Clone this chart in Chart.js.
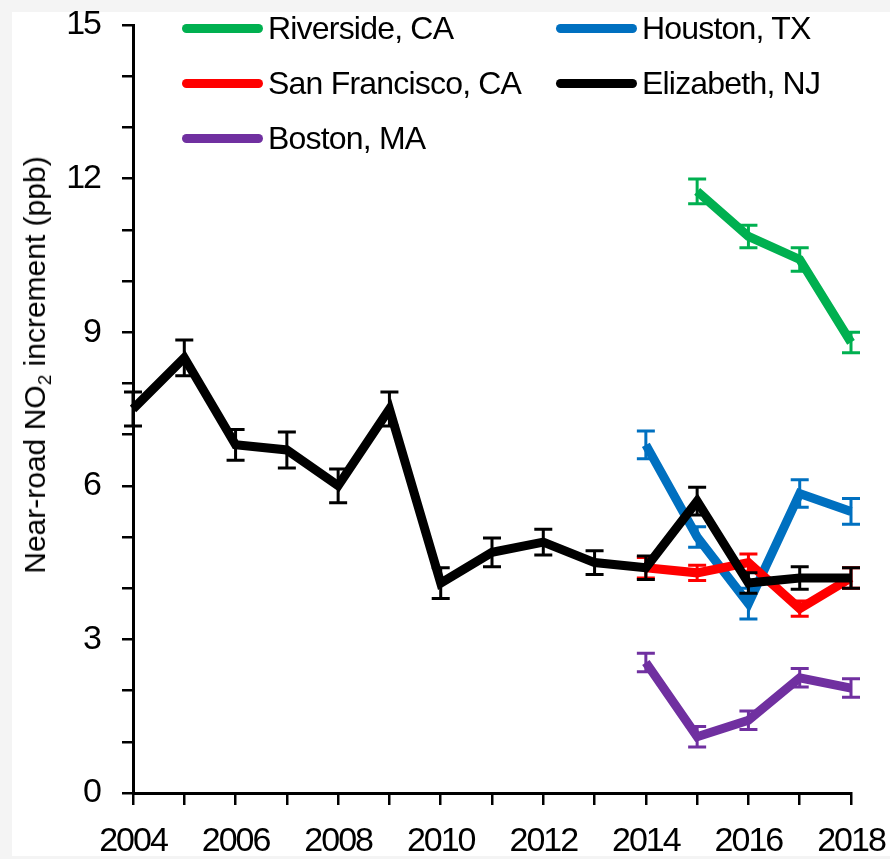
<!DOCTYPE html>
<html lang="en">
<head>
    <meta charset="UTF-8">
    <title>Near-road NO2 increment</title>
    <script src="https://cdn.jsdelivr.net/npm/chart.js"></script>
    <style>
        body {
            margin: 0;
            background: #f4f4f4;
            width: 890px;
            height: 859px;
            position: relative;
            overflow: hidden;
        }
        .panel {
            position: absolute;
            left: 12px;
            top: 12px;
            width: 878px;
            height: 844px;
            background: #fff;
        }
        .wrap {
            position: absolute;
            left: 0;
            top: 0;
            width: 890px;
            height: 859px;
        }
        .ytitle {
            position: absolute;
            left: 37px;
            top: 365px;
            transform: translate(-50%, -50%) rotate(-90deg);
            white-space: nowrap;
            font-family: "Liberation Sans", Arial, sans-serif;
            font-size: 30px;
            color: #000;
        }
        .ytitle sub { font-size: 19px; vertical-align: -6px; }
        .leg {
            position: absolute;
            height: 40px;
            display: flex;
            align-items: center;
            font-family: "Liberation Sans", Arial, sans-serif;
            font-size: 32px;
            letter-spacing: -0.8px;
            color: #000;
            white-space: nowrap;
        }
        .leg span.swatch {
            display: inline-block;
            width: 81px;
            height: 9px;
            border-radius: 5px;
            margin-right: 5px;
        }
    </style>
</head>
<body>

<div class="panel"></div>
<div class="wrap"><canvas id="no2Chart"></canvas></div>
<div class="ytitle">Near-road NO<sub>2</sub> increment (ppb)</div>
<div id="legend"></div>

<script>
    // data
    const years = [2004, 2005, 2006, 2007, 2008, 2009, 2010, 2011, 2012, 2013, 2014, 2015, 2016, 2017, 2018];
    const elizabeth    = [7.5, 8.5, 6.8, 6.7, 6.0, 7.5, 4.1, 4.7, 4.9, 4.5, 4.4, 5.7, 4.1, 4.2, 4.2];
    const elizabethErr = [0.33, 0.35, 0.3, 0.35, 0.33, 0.33, 0.3, 0.28, 0.25, 0.23, 0.23, 0.27, 0.2, 0.22, 0.2];

    const yearsRecent = [2014, 2015, 2016, 2017, 2018];
    const houston      = [6.8, 5.0, 3.7, 5.85, 5.5];
    const houstonErr   = [0.27, 0.2, 0.3, 0.27, 0.25];
    const sanFrancisco = [4.4, 4.3, 4.5, 3.6, 4.2];
    const sanFranErr   = [0.2, 0.15, 0.17, 0.15, 0.2];
    const boston       = [2.55, 1.1, 1.42, 2.25, 2.05];
    const bostonErr    = [0.18, 0.2, 0.18, 0.18, 0.18];

    const yearsRiverside = [2015, 2016, 2017, 2018];
    const riverside      = [11.75, 10.87, 10.42, 8.8];
    const riversideErr   = [0.24, 0.22, 0.23, 0.2];

    const yTicksLabelled = [0, 3, 6, 9, 12, 15];

    const tickFont = { family: 'Liberation Sans', size: 34 };

    function pts(xs, ys, errs) {
        return xs.map((x, i) => ({ x: x, y: ys[i], err: errs[i] }));
    }

    function serie(label, color, xs, ys, errs) {
        return {
            label: label,
            data: pts(xs, ys, errs),
            borderColor: color,
            backgroundColor: color,
            borderWidth: 9,
            borderJoinStyle: 'miter',
            pointRadius: 0,
            pointHoverRadius: 0,
            tension: 0,
            clip: false
        };
    }

    // first in array = drawn on top
    const datasets = [
        serie('Elizabeth, NJ', '#000000', years, elizabeth, elizabethErr),
        serie('San Francisco, CA', '#ff0000', yearsRecent, sanFrancisco, sanFranErr),
        serie('Houston, TX', '#0070c0', yearsRecent, houston, houstonErr),
        serie('Boston, MA', '#7030a0', yearsRecent, boston, bostonErr),
        serie('Riverside, CA', '#00b050', yearsRiverside, riverside, riversideErr)
    ];

    // error bars, drawn just under each line
    const errorBars = {
        id: 'errorBars',
        beforeDatasetDraw(chart, args) {
            const ds = chart.data.datasets[args.index];
            const xs = chart.scales.x, ys = chart.scales.y;
            const ctx = chart.ctx;
            ctx.save();
            ctx.strokeStyle = ds.borderColor;
            ctx.lineWidth = 3;
            ds.data.forEach(p => {
                const px = xs.getPixelForValue(p.x);
                const top = ys.getPixelForValue(p.y + p.err);
                const bot = ys.getPixelForValue(p.y - p.err);
                ctx.beginPath();
                ctx.moveTo(px, top); ctx.lineTo(px, bot);
                ctx.moveTo(px - 9, top); ctx.lineTo(px + 9, top);
                ctx.moveTo(px - 9, bot); ctx.lineTo(px + 9, bot);
                ctx.stroke();
            });
            ctx.restore();
        }
    };

    // narrower tick digits, closer to the original figure
    const tighterText = {
        id: 'tighterText',
        beforeDraw(chart) { chart.ctx.letterSpacing = '-2px'; }
    };

    // no extra room for overhanging labels: plot area is set by layout padding
    function noLabelPadding(s) {
        s.paddingTop = 0; s.paddingBottom = 0; s.paddingLeft = 0; s.paddingRight = 0;
    }

    new Chart(document.getElementById('no2Chart').getContext('2d'), {
        type: 'line',
        data: { datasets: datasets },
        options: {
            responsive: true,
            maintainAspectRatio: false,
            animation: false,
            layout: { padding: { top: 25, right: 39, left: 0, bottom: 0 } },
            plugins: { legend: { display: false }, tooltip: { enabled: false } },
            scales: {
                x: {
                    type: 'linear',
                    min: 2004,
                    max: 2018,
                    ticks: {
                        stepSize: 1,
                        autoSkip: false,
                        maxRotation: 0,
                        padding: 16,
                        color: '#000',
                        font: tickFont,
                        callback: v => (v % 2 === 0 ? String(v) : '')
                    },
                    grid: { drawOnChartArea: false, drawTicks: true, tickLength: 12, color: '#000', lineWidth: 2.5 },
                    border: { color: '#000', width: 3 },
                    afterFit: s => { s.height = 66; noLabelPadding(s); }
                },
                y: {
                    min: 0,
                    max: 15,
                    ticks: {
                        stepSize: 1,
                        autoSkip: false,
                        padding: 22,
                        color: '#000',
                        font: tickFont,
                        callback: v => (yTicksLabelled.includes(v) ? String(v) : '')
                    },
                    grid: { drawOnChartArea: false, drawTicks: true, tickLength: 11, color: '#000', lineWidth: 2.5 },
                    border: { color: '#000', width: 3 },
                    afterFit: s => { s.width = 133; noLabelPadding(s); }
                }
            }
        },
        plugins: [tighterText, errorBars]
    });

    // legend in two columns, as in the figure
    const legendOrder = ['Riverside, CA', 'Houston, TX', 'San Francisco, CA', 'Elizabeth, NJ', 'Boston, MA'];
    const legendEl = document.getElementById('legend');
    legendOrder.forEach((name, i) => {
        const ds = datasets.find(d => d.label === name);
        const item = document.createElement('div');
        item.className = 'leg';
        item.style.left = (i % 2 === 0 ? 182 : 556) + 'px';
        item.style.top = (8 + Math.floor(i / 2) * 55) + 'px';
        item.innerHTML = '<span class="swatch" style="background:' + ds.borderColor + '"></span>' + name;
        legendEl.appendChild(item);
    });
</script>

</body>
</html>
